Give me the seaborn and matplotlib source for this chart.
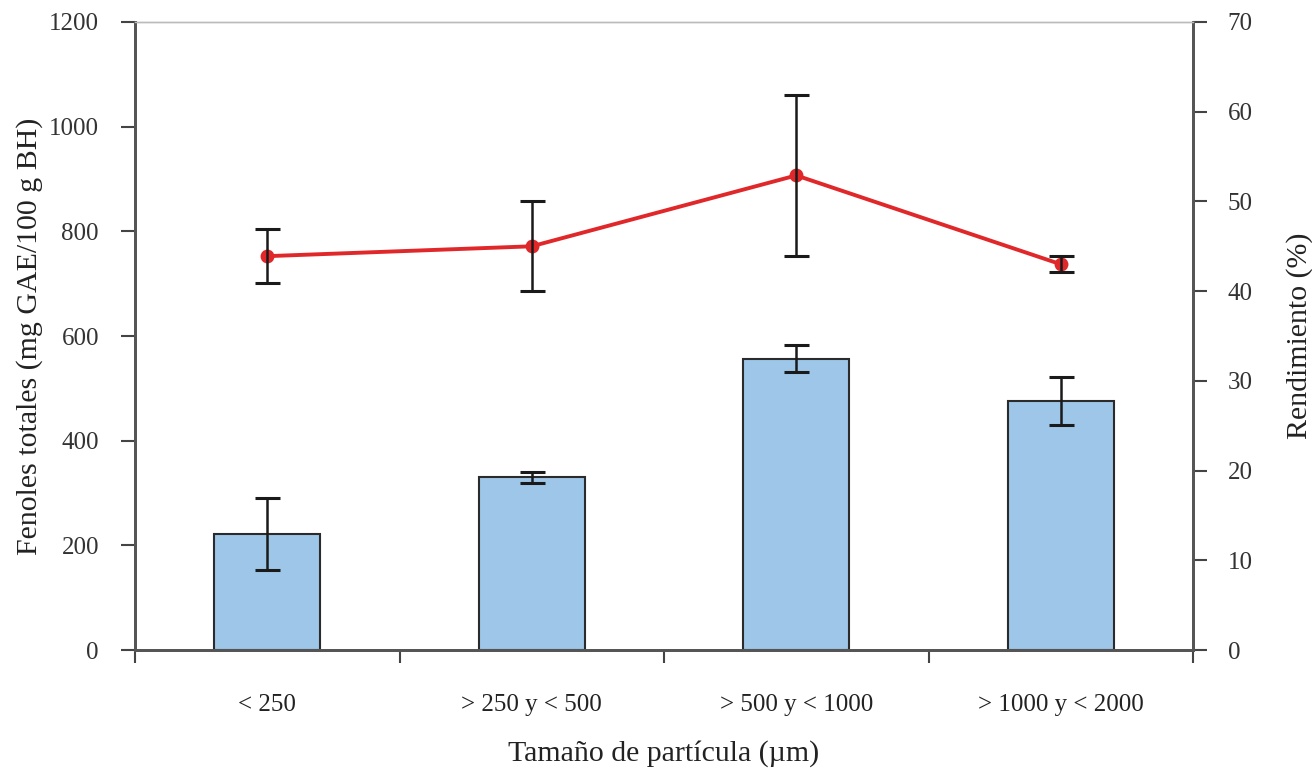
import matplotlib
matplotlib.use("Agg")
import matplotlib.pyplot as plt
import seaborn as sns
import numpy as np
import pandas as pd
from matplotlib.ticker import FixedLocator, MultipleLocator

categories = ["< 250", "> 250 y < 500", "> 500 y < 1000", "> 1000 y < 2000"]
fenoles = [221, 330, 557, 476]
fenoles_err = [69, 11, 26, 46]
rendimiento = [43.9, 45.0, 52.9, 43.0]
rendimiento_err = [3.0, 5.0, 9.0, 0.9]

sns.set_theme(style="white")
plt.rcParams["font.family"] = ["Liberation Serif", "DejaVu Serif"]

df = pd.DataFrame({"cat": categories, "fen": fenoles, "rend": rendimiento})

fig = plt.figure(figsize=(13.12, 7.69), dpi=100)
ax = fig.add_axes([0.1029, 0.1547, 0.8064, 0.8167])

sns.barplot(data=df, x="cat", y="fen", ax=ax, color="#9dc6e8", saturation=1,
            width=0.4, edgecolor="#2b2b2b", linewidth=1.5, zorder=2)
pos = np.arange(len(categories))
ax.errorbar(pos, fenoles, yerr=fenoles_err, fmt="none", ecolor="#1a1a1a",
            elinewidth=1.8, capsize=9, capthick=2.2, zorder=3)

ax2 = ax.twinx()
sns.lineplot(x=pos, y=rendimiento, ax=ax2, color="#e0282a", linewidth=2.8,
             marker="o", markersize=10, markeredgewidth=0, zorder=2)
ax2.errorbar(pos, rendimiento, yerr=rendimiento_err, fmt="none", ecolor="#1a1a1a",
             elinewidth=1.8, capsize=9, capthick=2.2, zorder=3)

ax.set_xlim(-0.5, 3.5)
ax.set_ylim(0, 1200)
ax2.set_ylim(0, 70)
ax.yaxis.set_major_locator(MultipleLocator(200))
ax2.yaxis.set_major_locator(MultipleLocator(10))

ax.xaxis.set_minor_locator(FixedLocator(np.arange(-0.5, len(categories), 1.0)))
ax.tick_params(axis="x", which="major", length=0, pad=32, labelsize=18, labelcolor="#222222")
ax.tick_params(axis="x", which="minor", bottom=True, length=9, width=1.5, color="#444444", direction="out")
ax.tick_params(axis="y", left=True, length=10, width=1.5, color="#444444", direction="out",
               pad=16, labelsize=18, labelcolor="#333333")
ax2.tick_params(axis="y", right=True, length=10, width=1.5, color="#444444", direction="out",
                pad=15, labelsize=18, labelcolor="#333333")

for a in (ax, ax2):
    for s in ("left", "right", "bottom"):
        a.spines[s].set_color("#555555")
        a.spines[s].set_linewidth(2)
    a.spines["top"].set_color("#bbbbbb")
    a.spines["top"].set_linewidth(1)

ax.set_xlabel("Tamaño de partícula (µm)", fontsize=21.5, labelpad=17, color="#222222")
ax.set_ylabel("Fenoles totales (mg GAE/100 g BH)", fontsize=21.5, labelpad=4, color="#222222")
ax2.set_ylabel("Rendimiento (%)", fontsize=21.5, labelpad=24, color="#222222")
ax.grid(False)
ax2.grid(False)

fig.savefig("out.png", dpi=100)
